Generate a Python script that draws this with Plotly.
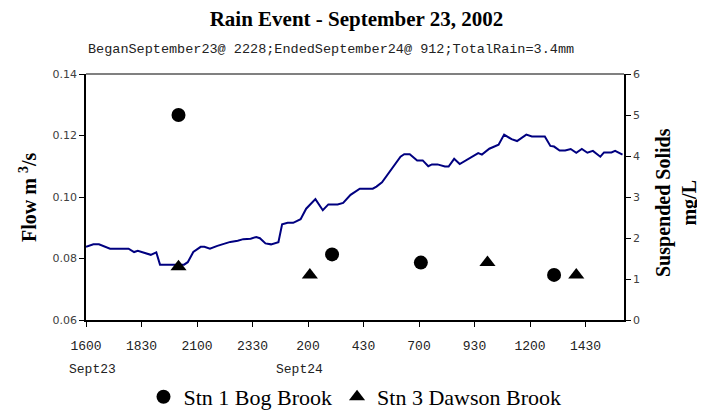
import plotly.graph_objects as go

# Flow (m3/s) trace
flow_time = [
    "2002-09-23 16:00", "2002-09-23 16:20", "2002-09-23 16:35", "2002-09-23 16:50", "2002-09-23 17:05",
    "2002-09-23 17:55", "2002-09-23 18:10", "2002-09-23 18:20", "2002-09-23 18:35", "2002-09-23 18:55",
    "2002-09-23 19:10", "2002-09-23 19:20", "2002-09-23 20:25", "2002-09-23 20:35", "2002-09-23 20:50",
    "2002-09-23 21:10", "2002-09-23 21:20", "2002-09-23 21:35", "2002-09-23 21:55", "2002-09-23 22:30",
    "2002-09-23 22:50", "2002-09-23 23:05", "2002-09-23 23:25", "2002-09-23 23:40", "2002-09-23 23:50",
    "2002-09-24 00:05", "2002-09-24 00:20", "2002-09-24 00:40", "2002-09-24 00:50", "2002-09-24 01:05",
    "2002-09-24 01:20", "2002-09-24 01:40", "2002-09-24 01:55", "2002-09-24 02:20", "2002-09-24 02:40",
    "2002-09-24 02:55", "2002-09-24 03:20", "2002-09-24 03:35", "2002-09-24 03:55", "2002-09-24 04:20",
    "2002-09-24 04:55", "2002-09-24 05:05", "2002-09-24 05:20", "2002-09-24 05:40", "2002-09-24 05:50",
    "2002-09-24 06:10", "2002-09-24 06:20", "2002-09-24 06:35", "2002-09-24 06:55", "2002-09-24 07:10",
    "2002-09-24 07:25", "2002-09-24 07:35", "2002-09-24 07:50", "2002-09-24 08:10", "2002-09-24 08:20",
    "2002-09-24 08:35", "2002-09-24 08:50", "2002-09-24 09:15", "2002-09-24 09:40", "2002-09-24 09:50",
    "2002-09-24 10:10", "2002-09-24 10:35", "2002-09-24 10:50", "2002-09-24 11:10", "2002-09-24 11:25",
    "2002-09-24 11:50", "2002-09-24 12:05", "2002-09-24 12:40", "2002-09-24 12:55", "2002-09-24 13:05",
    "2002-09-24 13:20", "2002-09-24 13:35", "2002-09-24 13:50", "2002-09-24 14:05", "2002-09-24 14:20",
    "2002-09-24 14:35", "2002-09-24 14:50", "2002-09-24 15:10", "2002-09-24 15:20", "2002-09-24 15:40",
    "2002-09-24 15:50", "2002-09-24 16:10",
]
flow_value = [
    0.0838, 0.0846, 0.0846, 0.0840, 0.0832,
    0.0832, 0.0821, 0.0825, 0.0820, 0.0812,
    0.0820, 0.0780, 0.0780, 0.0788, 0.0821,
    0.0838, 0.0838, 0.0832, 0.0841, 0.0854,
    0.0858, 0.0863, 0.0864, 0.0870, 0.0866,
    0.0849, 0.0846, 0.0853, 0.0911, 0.0916,
    0.0916, 0.0928, 0.0962, 0.0993, 0.0957,
    0.0976, 0.0976, 0.0981, 0.1007, 0.1027,
    0.1027, 0.1034, 0.1048, 0.1080, 0.1097,
    0.1131, 0.1139, 0.1139, 0.1119, 0.1119,
    0.1100, 0.1106, 0.1106, 0.1099, 0.1099,
    0.1124, 0.1107, 0.1126, 0.1143, 0.1138,
    0.1157, 0.1170, 0.1203, 0.1188, 0.1182,
    0.1203, 0.1197, 0.1197, 0.1166, 0.1164,
    0.1151, 0.1151, 0.1156, 0.1144, 0.1156,
    0.1144, 0.1150, 0.1131, 0.1145, 0.1145,
    0.1150, 0.1138,
]

# Suspended solids (mg/L)
stn1_time = ["2002-09-23 20:10", "2002-09-24 03:05", "2002-09-24 07:05", "2002-09-24 13:05"]
stn1_value = [5.0, 1.6, 1.4, 1.1]
stn3_time = ["2002-09-23 20:10", "2002-09-24 02:05", "2002-09-24 10:05", "2002-09-24 14:05"]
stn3_value = [1.3, 1.1, 1.4, 1.1]

tick_vals = ["2002-09-23 16:00", "2002-09-23 18:30", "2002-09-23 21:00", "2002-09-23 23:30",
             "2002-09-24 02:00", "2002-09-24 04:30", "2002-09-24 07:00", "2002-09-24 09:30",
             "2002-09-24 12:00", "2002-09-24 14:30"]
tick_text = ["1600", "1830", "2100", "2330", "200", "430", "700", "930", "1200", "1430"]

title_text = "Rain Event - September 23, 2002"
subtitle_text = "BeganSeptember23@ 2228;EndedSeptember24@ 912;TotalRain=3.4mm"

serif = "Liberation Serif"
mono = "Liberation Mono"
sans = "DejaVu Sans"

# the page body has an 8px margin; the figure is made a little taller than the
# window so the legend's automatic margin padding falls below the visible area
W, H = 697, 424
PLOT_H = 246
PLOT_BOTTOM = 312  # in figure pixels

fig = go.Figure()
fig.add_trace(go.Scatter(x=flow_time, y=flow_value, mode="lines",
                         line=dict(color="#000080", width=2), showlegend=False, yaxis="y"))
fig.add_trace(go.Scatter(x=stn1_time, y=stn1_value, mode="markers", name="Stn 1 Bog Brook",
                         marker=dict(symbol="circle", size=14, color="black"), yaxis="y2"))
fig.add_trace(go.Scatter(x=stn3_time, y=stn3_value, mode="markers", name="Stn 3 Dawson Brook",
                         marker=dict(symbol="triangle-up", size=14, color="black"), yaxis="y2"))

fig.update_layout(
    width=W, height=H,
    margin=dict(l=78, r=81, t=66, b=H - PLOT_BOTTOM),
    plot_bgcolor="white", paper_bgcolor="white",
    title=dict(text="<b>" + title_text + "</b>", x=0.5, xanchor="center", y=1 - 11 / H,
               yanchor="middle", font=dict(family=serif, size=21, color="black")),
    xaxis=dict(type="date", range=["2002-09-23 16:00", "2002-09-24 16:14"],
               tickvals=tick_vals, ticktext=tick_text, ticks="outside", ticklen=5,
               tickcolor="black", showline=True, linecolor="black", linewidth=1.5,
               showgrid=False, zeroline=False, ticklabelstandoff=8,
               tickfont=dict(family=mono, size=13, color="#222")),
    yaxis=dict(range=[0.06, 0.14], tickvals=[0.06, 0.08, 0.10, 0.12, 0.14],
               tickformat=".2f", ticks="outside", ticklen=5, tickcolor="black",
               showline=True, linecolor="black", linewidth=1.5, showgrid=False, zeroline=False,
               tickfont=dict(family=sans, size=11, color="#404040")),
    yaxis2=dict(range=[0, 6], tickvals=[0, 1, 2, 3, 4, 5, 6], overlaying="y", side="right",
                ticks="outside", ticklen=5, tickcolor="black", showline=True, linecolor="black",
                linewidth=1.5, showgrid=False, zeroline=False,
                tickfont=dict(family=sans, size=11, color="#404040")),
    legend=dict(orientation="h", x=0.5, xanchor="center", y=(312 - 389) / PLOT_H, yanchor="middle",
                font=dict(family=serif, size=22, color="black"), itemwidth=30,
                bgcolor="rgba(0,0,0,0)", borderwidth=0),
    shapes=[dict(type="line", xref="paper", yref="paper", x0=0, x1=1, y0=1, y1=1,
                 line=dict(color="#808080", width=2))],
    annotations=[
        dict(text=subtitle_text, xref="paper", yref="paper", x=0, xanchor="left",
             y=1 + 24 / PLOT_H, yanchor="middle", showarrow=False,
             font=dict(family=mono, size=13.5, color="#222")),
        dict(text="Sept23", xref="x", yref="paper", x="2002-09-23 16:00", xshift=6,
             y=(320 - 369) / PLOT_H, yanchor="middle", showarrow=False,
             font=dict(family=mono, size=13, color="#222")),
        dict(text="Sept24", xref="x", yref="paper", x="2002-09-24 02:00", xshift=-9,
             y=(320 - 369) / PLOT_H, yanchor="middle", showarrow=False,
             font=dict(family=mono, size=13, color="#222")),
        dict(text="<b>Flow m <sup>3</sup>/s</b>", xref="paper", yref="paper",
             x=(28 - 86) / 538, xanchor="center", y=(320 - 198) / PLOT_H, yanchor="middle",
             textangle=-90, showarrow=False, font=dict(family=serif, size=20, color="black")),
        dict(text="<b>Suspended Solids<br>mg/L</b>", xref="paper", yref="paper",
             x=(676 - 86) / 538, xanchor="center", y=(320 - 203) / PLOT_H, yanchor="middle",
             textangle=-90, showarrow=False, font=dict(family=serif, size=20, color="black")),
    ],
)

fig.write_html("out.html")
